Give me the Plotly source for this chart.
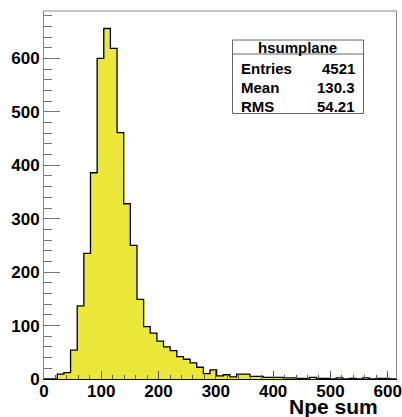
import numpy as np
import plotly.graph_objects as go

# ---- data ----
counts = [0, 0, 9, 12, 54, 137, 235, 386, 600, 656, 619, 461, 328, 250, 149,
          98, 86, 71, 60, 53, 42, 37, 30, 22, 10, 17, 6, 8, 4, 9, 9, 5, 5,
          3, 3, 3, 2, 2, 1, 1, 3, 1, 1, 0, 2, 0, 1, 0, 2, 0, 1, 1, 0]
bin_width = 11.594
x_range = [0, 614.5]
x_title = "Npe sum"
stats_title = "hsumplane"
stats_labels = ["Entries", "Mean", "RMS"]
stats_values = ["4521", "130.3", "54.21"]

edges = np.arange(len(counts) + 1) * bin_width
xs = list(edges)
ys = list(counts) + [counts[-1]]
y_max = 1.05 * max(counts)

FONT = "Liberation Sans, Arial, sans-serif"

fig = go.Figure()
fig.add_trace(go.Scatter(
    x=xs, y=ys, mode="lines",
    line=dict(shape="hv", color="black", width=1.3),
    fill="tozeroy", fillcolor="#ece83a",
    hoverinfo="skip", showlegend=False,
))

tickfont = dict(family=FONT, size=17, color="black", weight="bold")

fig.update_layout(
    width=402, height=417,
    margin=dict(l=44, r=6, t=11, b=38, pad=0),
    paper_bgcolor="white", plot_bgcolor="white",
    xaxis=dict(
        range=x_range, showgrid=False, zeroline=False, automargin=False,
        showline=True, linecolor="black", linewidth=1, mirror=False,
        ticks="inside", ticklen=8, tickcolor="#555", tickwidth=1,
        tick0=0, dtick=100, tickfont=tickfont, ticklabelstandoff=-3,
        minor=dict(dtick=20, ticks="inside", ticklen=4, tickcolor="#555", showgrid=False),
    ),
    yaxis=dict(
        range=[0, y_max], showgrid=False, zeroline=False, automargin=False,
        showline=True, linecolor="#888", linewidth=1, mirror=True,
        ticks="inside", ticklen=16, tickcolor="#777", tickwidth=1,
        tick0=0, dtick=100, tickfont=tickfont,
        minor=dict(dtick=20, ticks="inside", ticklen=8, tickcolor="#777", showgrid=False),
    ),
)

def px_x(p):
    return (p - 44) / 352.0

def px_y(p):
    return (379 - p) / 368.0

shapes = [
    dict(type="line", xref="paper", yref="paper", x0=0, x1=1, y0=1, y1=1,
         line=dict(color="#888", width=1)),
    dict(type="rect", xref="paper", yref="paper",
         x0=px_x(232.5), x1=px_x(363.5), y0=px_y(113.5), y1=px_y(40),
         line=dict(color="#666", width=1), fillcolor="white", layer="above"),
    dict(type="line", xref="paper", yref="paper",
         x0=px_x(232.5), x1=px_x(363.5), y0=px_y(54), y1=px_y(54),
         line=dict(color="#666", width=1), layer="above"),
]
fig.update_layout(shapes=shapes)

sfont = dict(family=FONT, size=15, color="black", weight="bold")
ann = [dict(text=stats_title, x=px_x(297), y=px_y(47.5), xref="paper", yref="paper",
            xanchor="center", yanchor="middle", showarrow=False, font=sfont)]
row_y = [68.5, 87.5, 106]
for lab, val, ry in zip(stats_labels, stats_values, row_y):
    ann.append(dict(text=lab, x=px_x(239), y=px_y(ry), xref="paper", yref="paper",
                    xanchor="left", yanchor="middle", showarrow=False, font=sfont))
    ann.append(dict(text=val, x=px_x(357), y=px_y(ry), xref="paper", yref="paper",
                    xanchor="right", yanchor="middle", showarrow=False, font=sfont))
ann.append(dict(text=x_title, x=px_x(379.5), y=px_y(406), xref="paper", yref="paper",
                xanchor="right", yanchor="middle", showarrow=False,
                font=dict(family=FONT, size=21, color="black", weight="bold")))
fig.update_layout(annotations=ann)

fig.write_html("out.html", config={"displayModeBar": False},
               post_script="document.body.style.margin='0';document.body.style.padding='0';")
